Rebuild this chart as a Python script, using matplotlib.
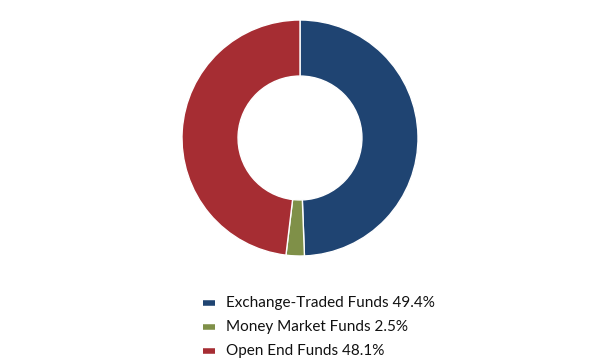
import matplotlib.pyplot as plt
from matplotlib.lines import Line2D

labels = ['Exchange-Traded Funds', 'Money Market Funds', 'Open End Funds']
values = [49.4, 2.5, 48.1]
colors = ['#1F4472', '#7F9048', '#A62D33']

fig = plt.figure(figsize=(6, 3.6), dpi=100)
ax = fig.add_axes([182/600, 1 - 256/360, 236/600, 236/360])
ax.pie(values, colors=colors, startangle=90, counterclock=False,
       wedgeprops=dict(width=0.475, edgecolor='white', linewidth=1))
ax.set_aspect('equal')
ax.set_xlim(-1, 1)
ax.set_ylim(-1, 1)
ax.axis('off')

# legend drawn by hand so it lines up with the reference
for i, (lab, val, col) in enumerate(zip(labels, values, colors)):
    y = 1 - (303 + 24*i) / 360
    fig.add_artist(Line2D([203/600, 215/600], [y, y], color=col, linewidth=4,
                          transform=fig.transFigure, solid_capstyle='butt'))
    fig.text(226/600, y, f'{lab} {val}%', fontsize=11, va='center', ha='left',
             family='Lato', color='#111111')

fig.savefig('out.png', dpi=100)
